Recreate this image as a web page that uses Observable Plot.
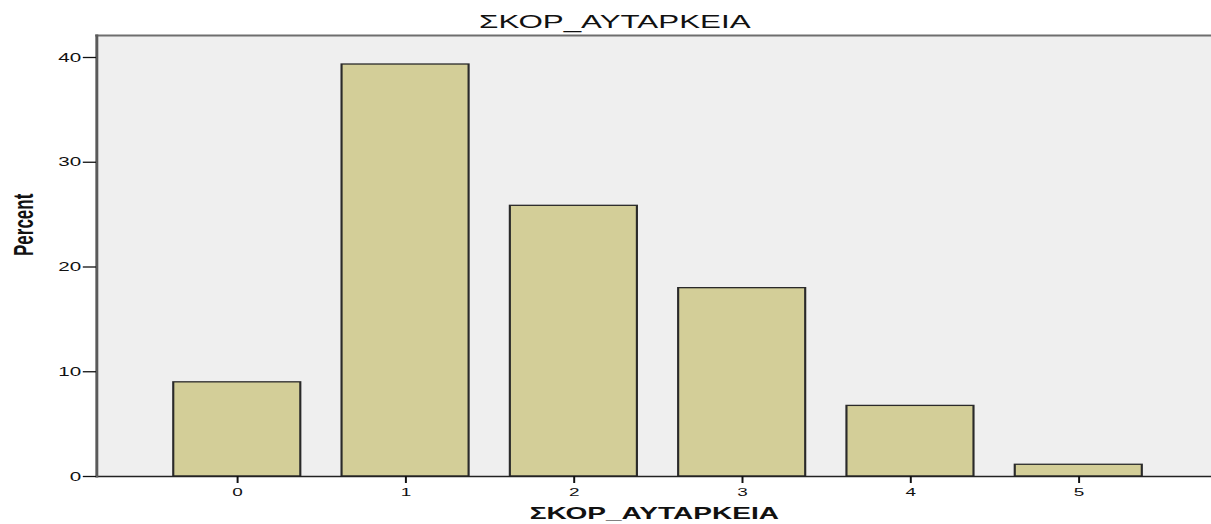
<!DOCTYPE html>
<html><head><meta charset="utf-8">
<script src="https://cdn.jsdelivr.net/npm/d3@7"></script>
<script src="https://cdn.jsdelivr.net/npm/@observablehq/plot@0.6"></script>
<style>html,body{margin:0;padding:0;background:#fff;} #chart svg{display:block}</style>
</head><body><div id="chart"></div>
<script>
const categories = ["0", "1", "2", "3", "4", "5"];
const percents = [8.99, 39.33, 25.84, 17.98, 6.74, 1.12];
const yTicks = [0, 10, 20, 30, 40];
const title = "ΣΚΟΡ_ΑΥΤΑΡΚΕΙΑ";
const xLabel = "ΣΚΟΡ_ΑΥΤΑΡΚΕΙΑ";
const yLabel = "Percent";

const data = categories.map((c, i) => ({category: c, percent: percents[i]}));
const S = 1.65; // horizontal stretch of the original picture
const W = 1211, H = 524;
const w = W / S;
const left = 96 / S;

const plot = Plot.plot({
  width: w, height: H,
  marginLeft: left, marginRight: 0, marginTop: 35, marginBottom: 48,
  style: {fontFamily: "'Liberation Sans', Arial, sans-serif", color: "#111", background: "#fff"},
  x: {type: "band", domain: categories, range: [left, 1218.5 / S], paddingInner: 0.246, paddingOuter: 0.454, axis: null},
  y: {domain: [0, 42.1], axis: null},
  marks: [
    Plot.frame({fill: "#efefef", stroke: null}),
    Plot.barY(data, {x: "category", y: "percent", fill: "#d3ce98", stroke: "#2a2a2a", strokeWidth: 1.3}),
    Plot.ruleY([0], {stroke: "#222", strokeWidth: 1.3}),
    Plot.frame({anchor: "top", stroke: "#6e6e6e", strokeWidth: 2}),
    Plot.frame({anchor: "left", stroke: "#5a5a5a", strokeWidth: 1.8}),
    Plot.axisY(yTicks, {tickSize: 8, tickPadding: 1.5, fontSize: 12.5, label: null, strokeWidth: 1.3}),
    Plot.axisX({tickSize: 7, tickPadding: 4, fontSize: 11.5, label: null, strokeWidth: 1.2}),
    Plot.text([title], {frameAnchor: "top", dy: -20.5, dx: (614 / S) - (left + w) / 2, fontSize: 19}),
    Plot.text([xLabel], {frameAnchor: "bottom", dy: 42, fontSize: 17, fontWeight: "bold"}),
    Plot.text([yLabel], {frameAnchor: "left", dx: 23 / S - left, rotate: -90, fontSize: 17, fontWeight: "bold"})
  ]
});
plot.setAttribute("width", W);
plot.setAttribute("height", H);
plot.setAttribute("preserveAspectRatio", "none");
plot.style.width = W + "px";
plot.style.height = H + "px";
plot.style.maxWidth = "none";
document.getElementById("chart").appendChild(plot);
</script>
</body></html>
